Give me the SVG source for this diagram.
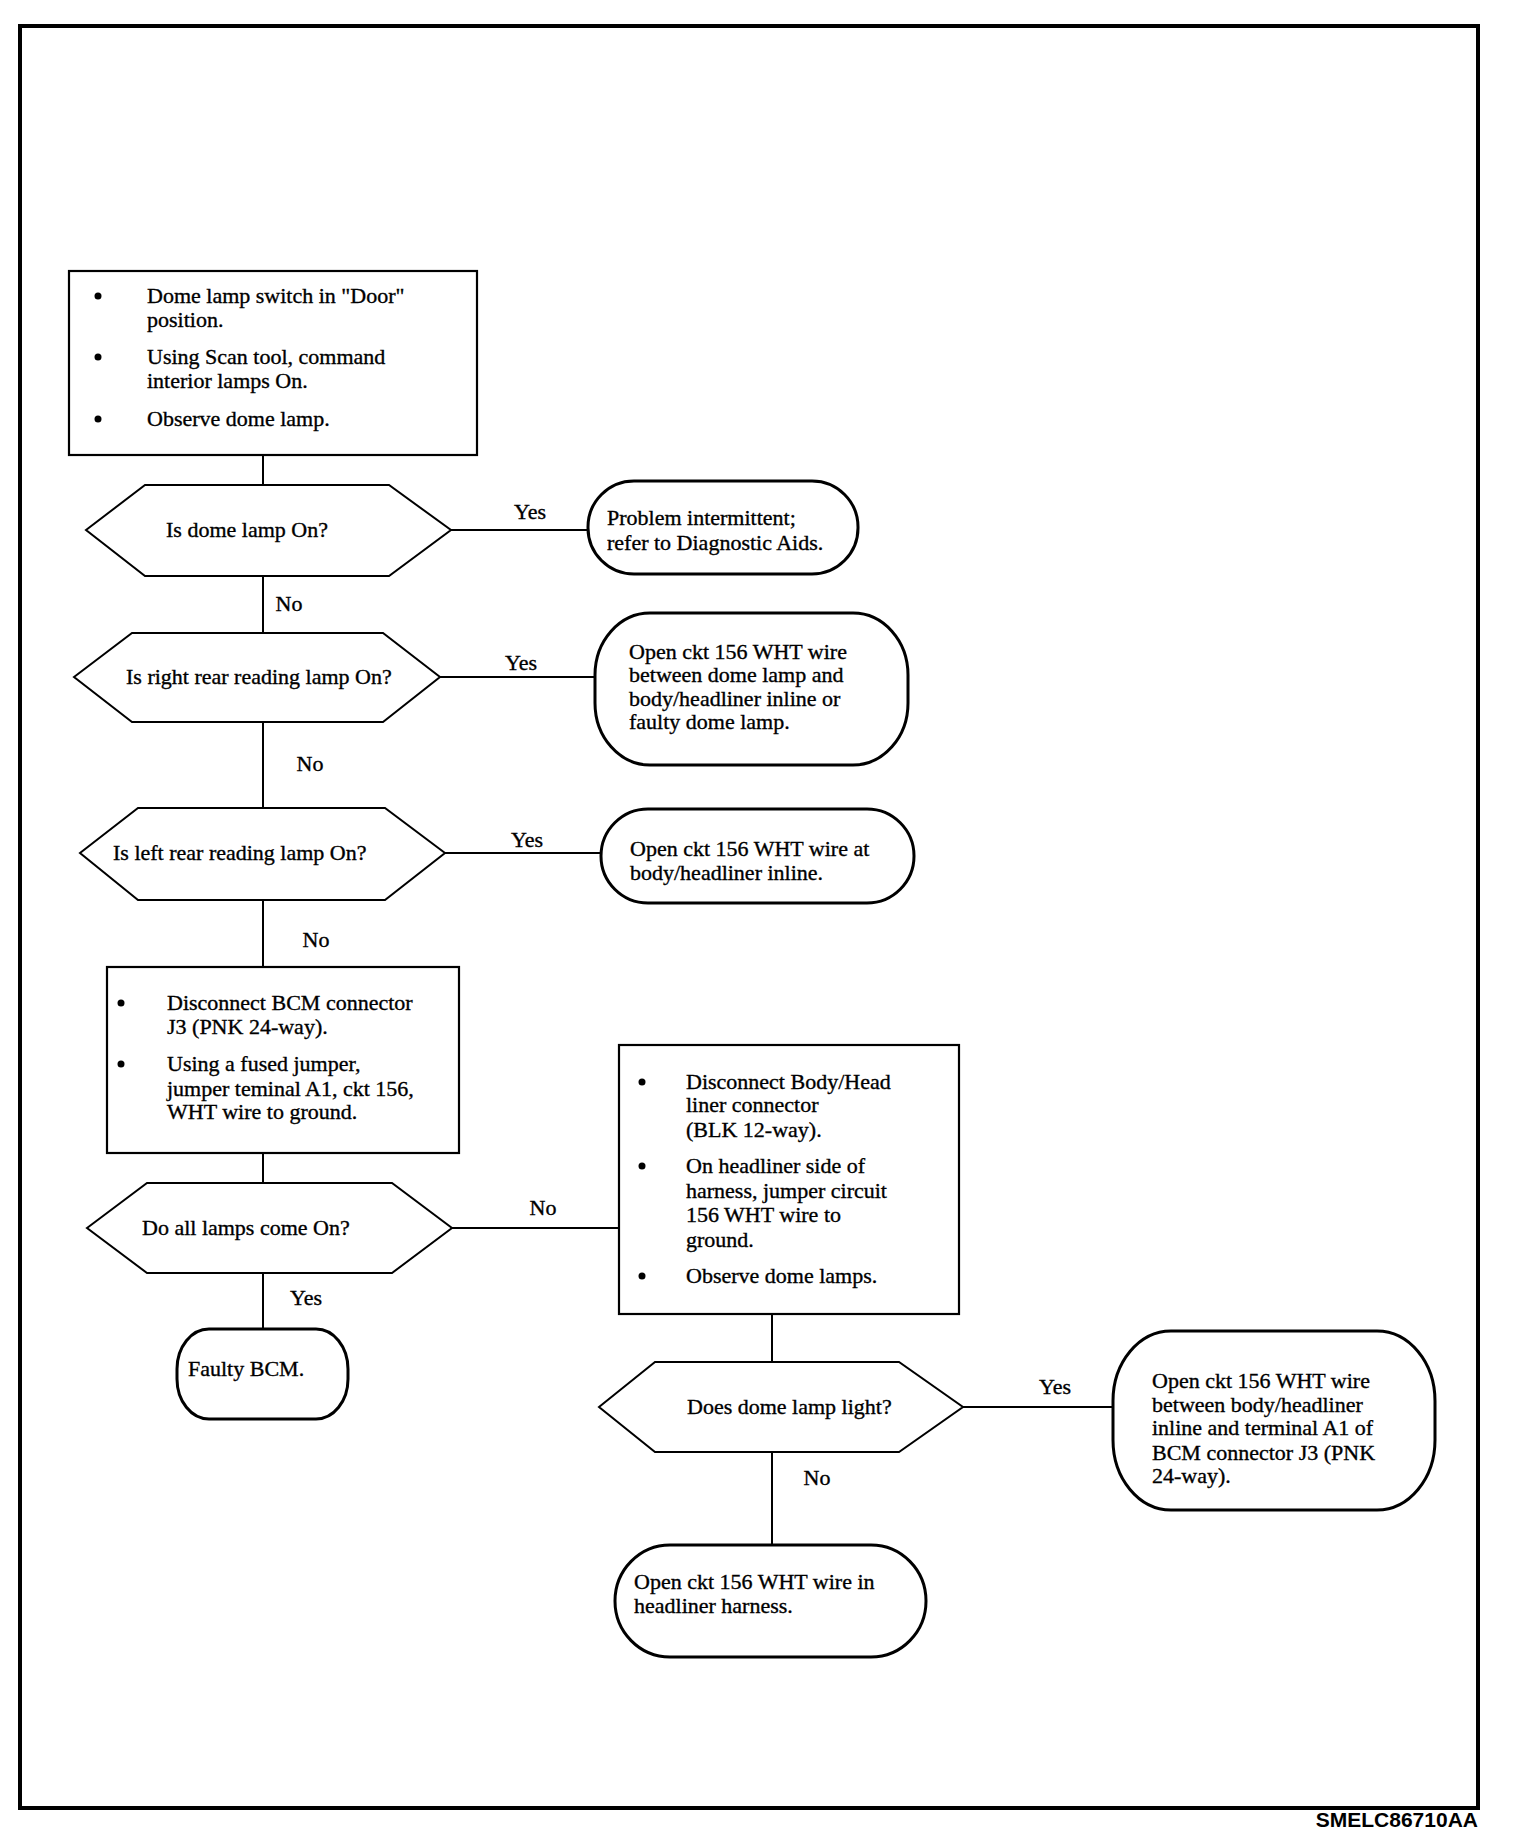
<svg xmlns="http://www.w3.org/2000/svg" width="1520" height="1848" viewBox="0 0 1520 1848">
<style>
.frame{fill:none;stroke:#000;stroke-width:4}
.box{fill:#fff;stroke:#000;stroke-width:2.2}
.hex{fill:#fff;stroke:#000;stroke-width:2}
.term{fill:#fff;stroke:#000;stroke-width:3}
.ln{fill:none;stroke:#000;stroke-width:2}
text{font-family:"Liberation Serif","Times New Roman",serif;font-size:22px;fill:#000;stroke:#000;stroke-width:0.35}
.lbl{text-anchor:middle}
.cap{font-family:"Liberation Sans",Arial,sans-serif;font-size:21px;font-weight:bold;text-anchor:end;stroke:none}
</style>
<rect width="1520" height="1848" fill="#fff"/>
<rect class="frame" x="20" y="26" width="1458" height="1782"/>

<g id="connectors">
<path class="ln" d="M263 455V485M263 576V633M263 722V808M263 900V967M263 1153V1183M263 1273V1329"/>
<path class="ln" d="M451 530H588M440 677H595M445 853H601M452 1228H619M963 1407H1113"/>
<path class="ln" d="M772 1314V1362M772 1452V1545"/>
<text class="lbl" x="530" y="519">Yes</text>
<text class="lbl" x="289" y="611">No</text>
<text class="lbl" x="521" y="670">Yes</text>
<text class="lbl" x="310" y="771">No</text>
<text class="lbl" x="527" y="847">Yes</text>
<text class="lbl" x="316" y="947">No</text>
<text class="lbl" x="543" y="1215">No</text>
<text class="lbl" x="306" y="1305">Yes</text>
<text class="lbl" x="1055" y="1394">Yes</text>
<text class="lbl" x="817" y="1485">No</text>
</g>

<g id="start">
<rect class="box" x="69" y="271" width="408" height="184"/>
<circle cx="98" cy="296" r="3.5"/>
<circle cx="98" cy="357" r="3.5"/>
<circle cx="98" cy="419" r="3.5"/>
<text x="147" y="303">Dome lamp switch in "Door"</text>
<text x="147" y="327">position.</text>
<text x="147" y="364">Using Scan tool, command</text>
<text x="147" y="388">interior lamps On.</text>
<text x="147" y="426">Observe dome lamp.</text>
</g>

<g id="q1">
<polygon class="hex" points="86,530 145,485 389,485 451,530 389,576 145,576"/>
<text x="166" y="537">Is dome lamp On?</text>
</g>
<g id="r1">
<rect class="term" x="588" y="481" width="270" height="93" rx="46" ry="46"/>
<text x="607" y="525">Problem intermittent;</text>
<text x="607" y="550">refer to Diagnostic Aids.</text>
</g>

<g id="q2">
<polygon class="hex" points="74,677 132,633 383,633 440,677 383,722 132,722"/>
<text x="126" y="684">Is right rear reading lamp On?</text>
</g>
<g id="r2">
<rect class="term" x="595" y="613" width="313" height="152" rx="55" ry="62"/>
<text x="629" y="659">Open ckt 156 WHT wire</text>
<text x="629" y="682">between dome lamp and</text>
<text x="629" y="706">body/headliner inline or</text>
<text x="629" y="729">faulty dome lamp.</text>
</g>

<g id="q3">
<polygon class="hex" points="80,853 138,808 385,808 445,853 385,900 138,900"/>
<text x="113" y="860">Is left rear reading lamp On?</text>
</g>
<g id="r3">
<rect class="term" x="601" y="809" width="313" height="94" rx="47" ry="47"/>
<text x="630" y="856">Open ckt 156 WHT wire at</text>
<text x="630" y="880">body/headliner inline.</text>
</g>

<g id="step2">
<rect class="box" x="107" y="967" width="352" height="186"/>
<circle cx="121" cy="1003" r="3.5"/>
<circle cx="121" cy="1064" r="3.5"/>
<text x="167" y="1010">Disconnect BCM connector</text>
<text x="167" y="1034">J3 (PNK 24-way).</text>
<text x="167" y="1071">Using a fused jumper,</text>
<text x="167" y="1096">jumper teminal A1, ckt 156,</text>
<text x="167" y="1119">WHT wire to ground.</text>
</g>

<g id="q4">
<polygon class="hex" points="87,1228 147,1183 392,1183 452,1228 392,1273 147,1273"/>
<text x="142" y="1235">Do all lamps come On?</text>
</g>
<g id="r4">
<rect class="term" x="177" y="1329" width="171" height="90" rx="32" ry="40"/>
<text x="188" y="1376">Faulty BCM.</text>
</g>

<g id="step3">
<rect class="box" x="619" y="1045" width="340" height="269"/>
<circle cx="642" cy="1082" r="3.5"/>
<circle cx="642" cy="1166" r="3.5"/>
<circle cx="642" cy="1276" r="3.5"/>
<text x="686" y="1089">Disconnect Body/Head</text>
<text x="686" y="1112">liner connector</text>
<text x="686" y="1137">(BLK 12-way).</text>
<text x="686" y="1173">On headliner side of</text>
<text x="686" y="1198">harness, jumper circuit</text>
<text x="686" y="1222">156 WHT wire to</text>
<text x="686" y="1247">ground.</text>
<text x="686" y="1283">Observe dome lamps.</text>
</g>

<g id="q5">
<polygon class="hex" points="599,1407 655,1362 899,1362 963,1407 899,1452 655,1452"/>
<text x="687" y="1414">Does dome lamp light?</text>
</g>
<g id="r5">
<rect class="term" x="1113" y="1331" width="322" height="179" rx="58" ry="70"/>
<text x="1152" y="1388">Open ckt 156 WHT wire</text>
<text x="1152" y="1412">between body/headliner</text>
<text x="1152" y="1435">inline and terminal A1 of</text>
<text x="1152" y="1460">BCM connector J3 (PNK</text>
<text x="1152" y="1483">24-way).</text>
</g>
<g id="r6">
<rect class="term" x="615" y="1545" width="311" height="112" rx="55" ry="56"/>
<text x="634" y="1589">Open ckt 156 WHT wire in</text>
<text x="634" y="1613">headliner harness.</text>
</g>

<text class="cap" x="1478" y="1827">SMELC86710AA</text>
</svg>
